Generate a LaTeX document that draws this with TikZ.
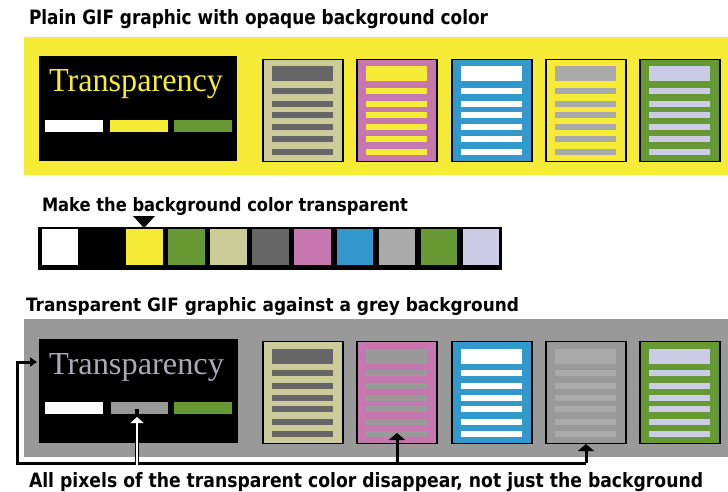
\documentclass[tikz,border=0pt]{standalone}
\usepackage{fontspec}
\setmainfont{DejaVu Sans}
\newfontfamily\serifface{Liberation Serif}
\usetikzlibrary{arrows.meta}
\definecolor{yel}{HTML}{F6EB37}
\definecolor{grn}{HTML}{669933}
\definecolor{khaki}{HTML}{CCCC99}
\definecolor{dgrey}{HTML}{666666}
\definecolor{pink}{HTML}{C677B0}
\definecolor{blu}{HTML}{3399CC}
\definecolor{lgrey}{HTML}{AAAAAA}
\definecolor{lav}{HTML}{CCCCE6}
\definecolor{gbg}{HTML}{999999}
\definecolor{txtgrey}{HTML}{ABAAB5}
\newcommand\ttl[3]{\resizebox{#1pt}{#2pt}{\bfseries #3}}
\newcommand\docpage[5]{%
  \node[docbox, fill=#4, anchor=north west] (#1) at (#2,#3) {};
  \fill[#5] ([shift={(9,7)}]#1.north west) rectangle ([shift={(70,22)}]#1.north west);
  \foreach \c in {31.5,44.5,56,67.5,80,92.5}
    \fill[#5] ([shift={(9,\c-3)}]#1.north west) rectangle ([shift={(70,\c+3)}]#1.north west);
  \draw[line width=1.6pt] (#1.north west) rectangle (#1.south east);
}
\begin{document}
\begin{tikzpicture}[x=1pt,y=-1pt,
  title/.style={anchor=base west, inner sep=0pt, outer sep=0pt},
  docbox/.style={rectangle, minimum width=80pt, minimum height=102pt, inner sep=0pt, outer sep=0pt},
  band/.style={rectangle, inner sep=0pt, outer sep=0pt, anchor=north west},
  word/.style={anchor=base west, inner sep=0pt, outer sep=0pt},
  conn/.style={line width=3pt, black, line join=miter},
  cell/.style={rectangle, inner sep=0pt, outer sep=0pt, anchor=north west, minimum width=36.5pt, minimum height=36pt}]
\useasboundingbox (0,0) rectangle (728,492);
\fill[white] (0,0) rectangle (728,492);

% ---- section 1 ----
\node[title] (t1) at (29,25) {\ttl{459}{15}{Plain GIF graphic with opaque background color}};
\node[band, fill=yel, minimum width=704pt, minimum height=138pt] (yb) at (24,37) {};
\node[band, fill=black, minimum width=198pt, minimum height=105pt] (tb) at (39,56) {};
\node[word, text=yel] (tw) at (49,92) {\resizebox{174pt}{22pt}{\serifface Transparency}};
\fill[white] (45,120) rectangle (103,132);
\fill[yel] (110,120) rectangle (168,132);
\fill[grn] (174,120) rectangle (232,132);
\docpage{a1}{263}{59.5}{khaki}{dgrey}
\docpage{a2}{357}{59.5}{pink}{yel}
\docpage{a3}{452}{59.5}{blu}{white}
\docpage{a4}{546}{59.5}{yel}{lgrey}
\docpage{a5}{640}{59.5}{grn}{lav}

% ---- section 2 ----
\node[title] (t2) at (42,211) {\ttl{366}{14}{Make the background color transparent}};
\node[band, fill=black, minimum width=464pt, minimum height=43pt] (pal) at (38,227) {};
\foreach \col [count=\i from 0] in {white,black,yel,grn,khaki,dgrey,pink,blu,lgrey,grn,lav}
  \node[cell, fill=\col] (c\i) at (41.8+42.1*\i,229) {};
\fill[black] (133,216) -- (155,216) -- (144,228) -- cycle;

% ---- section 3 ----
\node[title] (t3) at (26,311) {\ttl{493}{14}{Transparent GIF graphic against a grey background}};
\node[band, fill=gbg, minimum width=704pt, minimum height=138pt] (gb) at (24,319) {};
\node[band, fill=black, minimum width=199pt, minimum height=104pt] (bb) at (39,339) {};
\node[word, text=txtgrey] (bw) at (49,374) {\resizebox{175pt}{21pt}{\serifface Transparency}};
\fill[white] (45,402) rectangle (103,414);
\fill[gbg] (111,402) rectangle (168,414);
\fill[grn] (174,402) rectangle (232,414);
\docpage{b1}{263}{341.5}{khaki}{dgrey}
\docpage{b2}{357}{341.5}{pink}{gbg}
\docpage{b3}{452}{341.5}{blu}{white}
\docpage{b4}{546}{341.5}{gbg}{lgrey}
\docpage{b5}{640}{341.5}{grn}{lav}

% ---- connectors ----
\coordinate (busL) at (17.5,463);
\coordinate (busR) at (586,463);
\coordinate (tipL) at (37,362);
\coordinate (tipW) at (137,417);
\coordinate (tip2) at (397,433);
\coordinate (tip4) at (586,444);
\draw[conn, -{Triangle[width=9pt,length=7pt]}] (busR) -- (busL) |- (tipL);
\draw[conn, -{Triangle[width=16pt,length=7pt]}] (tip2 |- busL) -- (tip2);
\draw[conn, -{Triangle[width=16pt,length=7pt]}] (busR) -- (tip4);
\draw[line width=4pt, black] (tipW |- busL) -- ([yshift=8pt]tipW);
\draw[line width=2pt, white, -{Triangle[width=13pt,length=6pt]}] ([yshift=-2pt]tipW |- busL) -- (tipW);

\node[title] (cap) at (29,487) {\ttl{674}{15}{All pixels of the transparent color disappear, not just the background}};
\end{tikzpicture}
\end{document}
